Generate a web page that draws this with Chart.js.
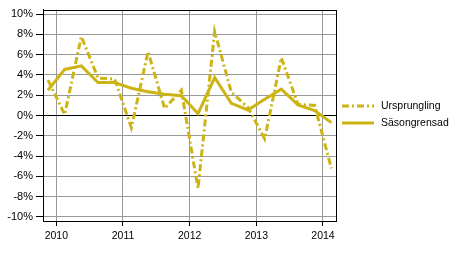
<!DOCTYPE html>
<html>
<head>
<meta charset="utf-8">
<script src="https://cdn.jsdelivr.net/npm/chart.js@4/dist/chart.umd.min.js"></script>
<style>
html,body{margin:0;padding:0;background:#fff;}
#wrap{position:relative;width:454px;height:253px;}
</style>
</head>
<body>
<div id="wrap"><canvas id="c" width="454" height="253"></canvas></div>
<script>
// Quarterly categories (index positions on the x axis)
const quarters = ['2009Q4','2010Q1','2010Q2','2010Q3','2010Q4','2011Q1','2011Q2','2011Q3','2011Q4',
                  '2012Q1','2012Q2','2012Q3','2012Q4','2013Q1','2013Q2','2013Q3','2013Q4','2014Q1'];
const seriesNames = ['Ursprungling', 'Säsongrensad'];
const ursprungling = [3.5, 0.1, 7.8, 3.7, 3.6, -1.2, 6.3, 0.7, 2.5, -7.2, 8.3, 2.3, 0.8, -2.3, 5.7, 1.1, 1.0, -5.2];
const sasongrensad = [2.5, 4.55, 4.9, 3.25, 3.25, 2.7, 2.35, 2.1, 1.95, 0.2, 3.75, 1.2, 0.55, 1.6, 2.6, 1.05, 0.5, -0.7];
const yTickValues = [-10, -8, -6, -4, -2, 0, 2, 4, 6, 8, 10];
const yearLabels = ['2010', '2011', '2012', '2013', '2014'];
const yearTickPositions = [0.5, 4.5, 8.5, 12.5, 16.5];

const GOLD = 'rgb(204,180,20)';
const FONT = '"Liberation Sans", Arial, sans-serif';

const frameAndLegend = {
  id: 'frameAndLegend',
  afterDraw(chart) {
    const ctx = chart.ctx, a = chart.chartArea;
    ctx.save();
    ctx.strokeStyle = '#000';
    ctx.lineWidth = 1;
    ctx.strokeRect(Math.round(a.left) + 0.5, Math.round(a.top) + 0.5,
                   Math.round(a.right - a.left) - 1 + 1, Math.round(a.bottom - a.top));
    // legend
    const items = chart.data.datasets;
    const ys = [106, 123];
    items.forEach((ds, i) => {
      ctx.beginPath();
      ctx.strokeStyle = ds.borderColor;
      ctx.lineWidth = ds.borderWidth;
      ctx.setLineDash(ds.borderDash || []);
      ctx.moveTo(342, ys[i]);
      ctx.lineTo(374, ys[i]);
      ctx.stroke();
      ctx.setLineDash([]);
      ctx.fillStyle = '#000';
      ctx.font = '10.5px ' + FONT;
      ctx.textBaseline = 'middle';
      ctx.textAlign = 'left';
      ctx.fillText(ds.label, 381, ys[i]);
    });
    ctx.restore();
  }
};

new Chart(document.getElementById('c'), {
  type: 'line',
  data: {
    datasets: [
      {
        label: seriesNames[0],
        data: ursprungling.map((v, i) => ({x: i, y: v})),
        borderColor: GOLD,
        borderWidth: 3,
        borderDash: [7, 3, 2, 3],
        pointRadius: 0,
        tension: 0,
        fill: false
      },
      {
        label: seriesNames[1],
        data: sasongrensad.map((v, i) => ({x: i, y: v})),
        borderColor: GOLD,
        borderWidth: 3,
        pointRadius: 0,
        tension: 0,
        fill: false
      }
    ]
  },
  options: {
    responsive: false,
    animation: false,
    layout: { padding: { top: 7, right: 118, bottom: 0, left: 0 } },
    plugins: { legend: { display: false }, tooltip: { enabled: false } },
    scales: {
      x: {
        type: 'linear',
        min: -0.3,
        max: 17.28,
        afterBuildTicks(scale) { scale.ticks = yearTickPositions.map(v => ({value: v})); },
        afterFit(scale) { scale.height = 32; },
        ticks: {
          callback: (v) => yearLabels[yearTickPositions.indexOf(v)],
          font: { family: FONT, size: 10.5 },
          color: '#000',
          padding: 4,
          maxRotation: 0,
          autoSkip: false
        },
        grid: { color: '#999', tickColor: '#000', tickLength: 5, lineWidth: 1 },
        border: { display: true, color: '#000' }
      },
      y: {
        min: -10.4,
        max: 10.45,
        afterBuildTicks(scale) { scale.ticks = yTickValues.map(v => ({value: v})); },
        afterFit(scale) { scale.width = 43; },
        ticks: {
          callback: (v) => v + '%',
          font: { family: FONT, size: 11 },
          color: '#000',
          padding: 3
        },
        grid: {
          color: (c) => (c.tick && c.tick.value === 0) ? '#000' : '#999',
          tickColor: '#000',
          tickLength: 7,
          lineWidth: 1
        },
        border: { display: true, color: '#000' }
      }
    }
  },
  plugins: [frameAndLegend]
});
</script>
</body>
</html>
